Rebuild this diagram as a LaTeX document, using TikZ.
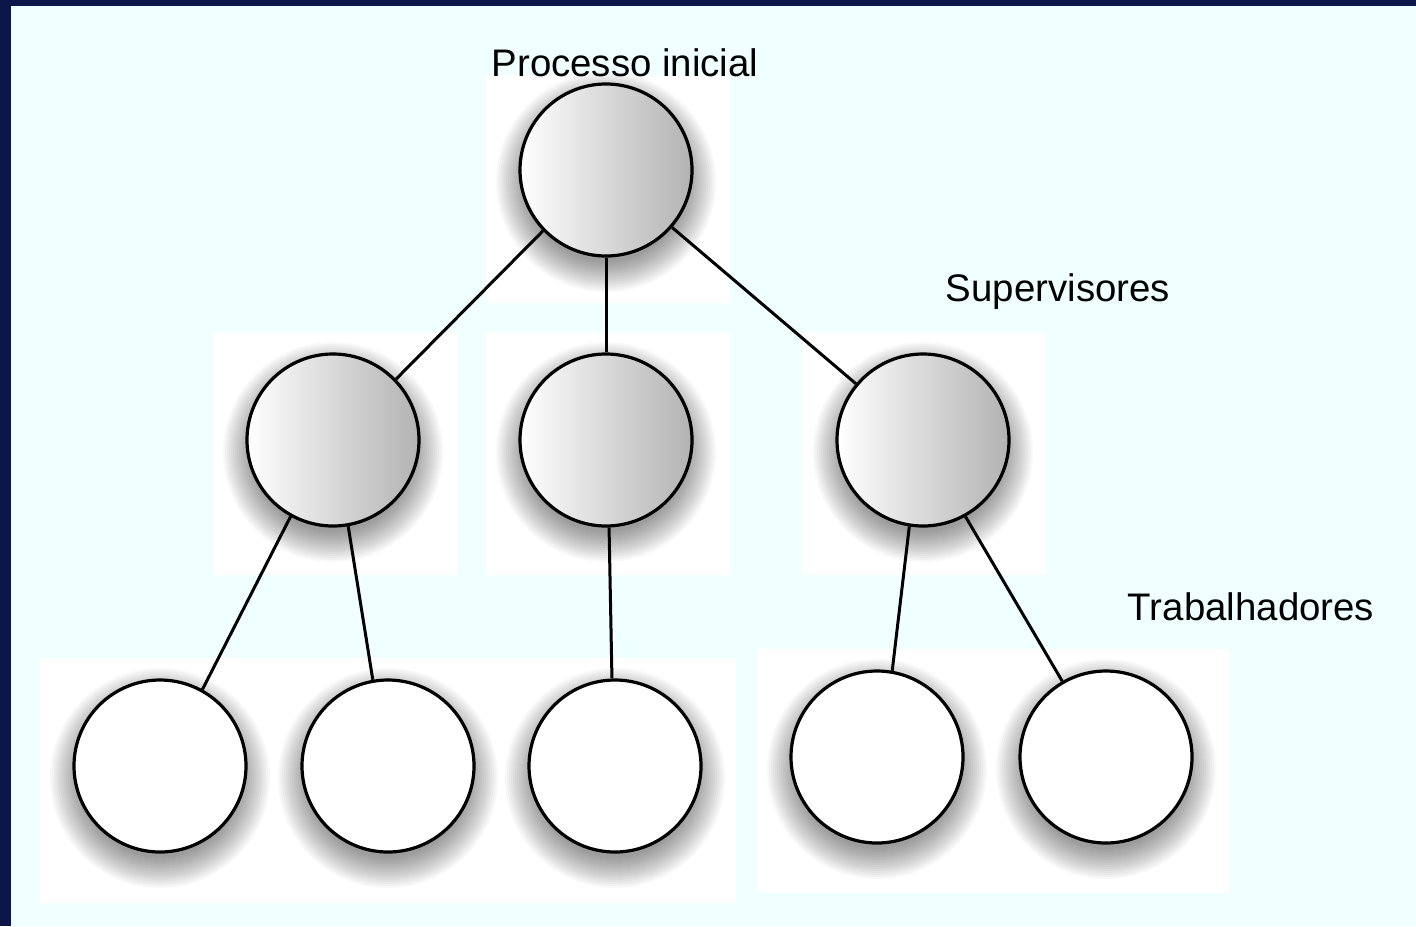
\documentclass[tikz,border=0pt]{standalone}
\usepackage{fontspec}
\setmainfont{Liberation Sans}
\definecolor{bgcol}{HTML}{F0FFFF}
\definecolor{navy}{HTML}{0C1648}
\begin{document}
\begin{tikzpicture}[x=0.5pt,y=-0.5pt]
\tikzset{
  supnode/.style={circle, draw=black, line width=1.6pt, minimum size=86pt, inner sep=0pt, left color=white, right color=black!30},
  leafnode/.style={circle, draw=black, line width=1.6pt, minimum size=86pt, inner sep=0pt, fill=white},
  conn/.style={line width=1.5pt},
  lbl/.style={font=\fontsize{19.2}{22}\selectfont, inner sep=0pt, anchor=base},
  panel/.style={fill=white, draw=none}
}
\newcommand\softshadow[1]{\foreach \i in {1,...,16}{\fill[black,opacity=0.028] ([yshift=-6pt]#1) circle ({39pt+\i*1pt});}}
% background
\useasboundingbox (0,0) rectangle (1416,926);
\fill[bgcol] (0,0) rectangle (1416,926);
\fill[navy] (0,0) rectangle (11,926);
\fill[navy] (0,0) rectangle (1416,6);
% white panels
\fill[panel] (486,75) rectangle (730,303);
\fill[panel] (213,332) rectangle (457,575);
\fill[panel] (486,332) rectangle (730,575);
\fill[panel] (802,332) rectangle (1046,575);
\fill[panel] (40,658) rectangle (736,903);
\fill[panel] (757,649) rectangle (1229,893);
% centres
\coordinate (ct) at (606,170);
\coordinate (cs1) at (333,440);
\coordinate (cs2) at (606,440);
\coordinate (cs3) at (923,440);
\coordinate (cl1) at (160,766);
\coordinate (cl2) at (388,766);
\coordinate (cl3) at (615,766);
\coordinate (cl4) at (877,757);
\coordinate (cl5) at (1106,757);
% shadows
\foreach \c in {ct,cs1,cs2,cs3,cl1,cl2,cl3,cl4,cl5}{\softshadow{\c}}
% nodes
\node[supnode] (t) at (ct) {};
\node[supnode] (s1) at (cs1) {};
\node[supnode] (s2) at (cs2) {};
\node[supnode] (s3) at (cs3) {};
\node[leafnode] (l1) at (cl1) {};
\node[leafnode] (l2) at (cl2) {};
\node[leafnode] (l3) at (cl3) {};
\node[leafnode] (l4) at (cl4) {};
\node[leafnode] (l5) at (cl5) {};
% connectors
\draw[conn] (t.224.5) -- (s1.44);
\draw[conn] (t.270) -- (s2.90);
\draw[conn] (t.319) -- (s3.140);
\draw[conn] (s1.241.7) -- (l1.61);
\draw[conn] (s1.280) -- (l2.100);
\draw[conn] (s2.272) -- (l3.92);
\draw[conn] (s3.261.6) -- (l4.80);
\draw[conn] (s3.299.4) -- (l5.120.7);
% labels
\node[lbl] (lt) at (625,76) {Processo inicial};
\node[lbl] (ls) at (1058,301) {Supervisores};
\node[lbl] (lw) at (1251,620) {Trabalhadores};
\end{tikzpicture}
\end{document}
